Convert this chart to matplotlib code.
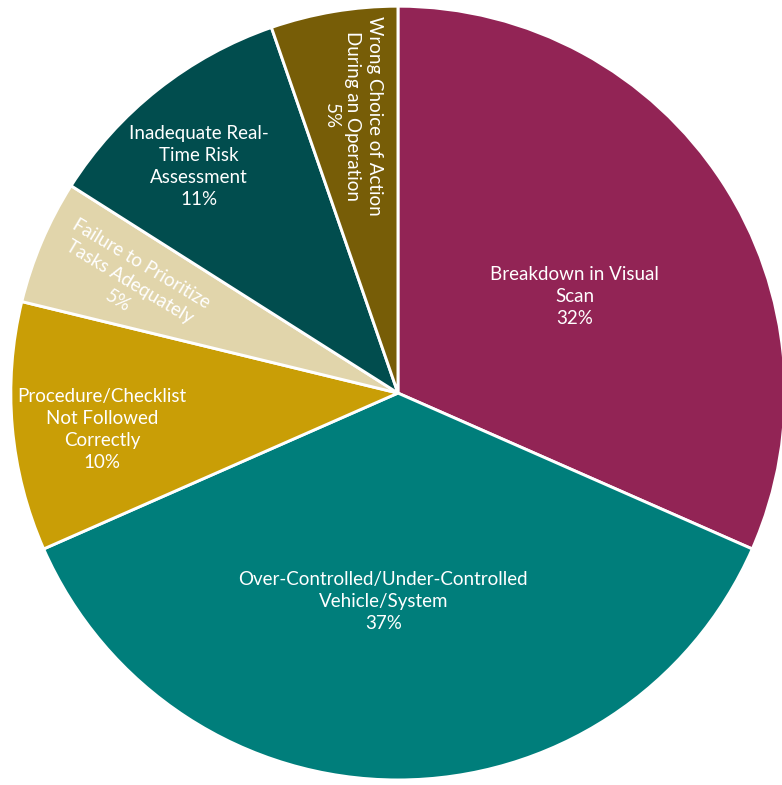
import matplotlib
matplotlib.use('Agg')
import matplotlib.pyplot as plt
import numpy as np

# --- datos ---
categorias = ['Breakdown in Visual\nScan',
              'Over-Controlled/Under-Controlled\nVehicle/System',
              'Procedure/Checklist\nNot Followed\nCorrectly',
              'Failure to Prioritize\nTasks Adequately',
              'Inadequate Real-\nTime Risk\nAssessment',
              'Wrong Choice of Action\nDuring an Operation']
valores = [31.6, 36.8, 10.4, 5.2, 10.7, 5.3]
colores = ['#922455', '#007E7B', '#C99E06', '#E1D5AB', '#014D4E', '#775D07']

# estilo de etiquetas: distancia radial, desvio angular y rotacion
distancias = [0.52, 0.54, 0.77, 0.75, 0.78, 0.725]
desvios = [-4.5, -4.0, 2.0, 0.6, 3.0, -0.3]
rotaciones = [0, 0, 0, -31, 0, -90]

plt.rcParams['font.family'] = ['Lato', 'DejaVu Sans']

fig = plt.figure(figsize=(7.82, 7.85), dpi=100)
ax = fig.add_axes([0, 0, 1, 1])
wedges, _ = ax.pie(valores, colors=colores, startangle=90, counterclock=False,
                   wedgeprops=dict(edgecolor='white', linewidth=2.1))

total = sum(valores)
for w, cat, v, d, da, rot in zip(wedges, categorias, valores, distancias, desvios, rotaciones):
    ang = np.deg2rad((w.theta1 + w.theta2) / 2 + da)
    ax.text(d * np.cos(ang), d * np.sin(ang), f"{cat}\n{v / total * 100:.0f}%",
            ha='center', va='center', color='white', fontsize=13.5,
            rotation=rot, rotation_mode='anchor', linespacing=1.35)

ax.set_xlim(-1.028, 0.992)
ax.set_ylim(-1.013, 1.016)
ax.set_aspect('auto')
ax.axis('off')

plt.savefig('out.png', dpi=100)
plt.close()
